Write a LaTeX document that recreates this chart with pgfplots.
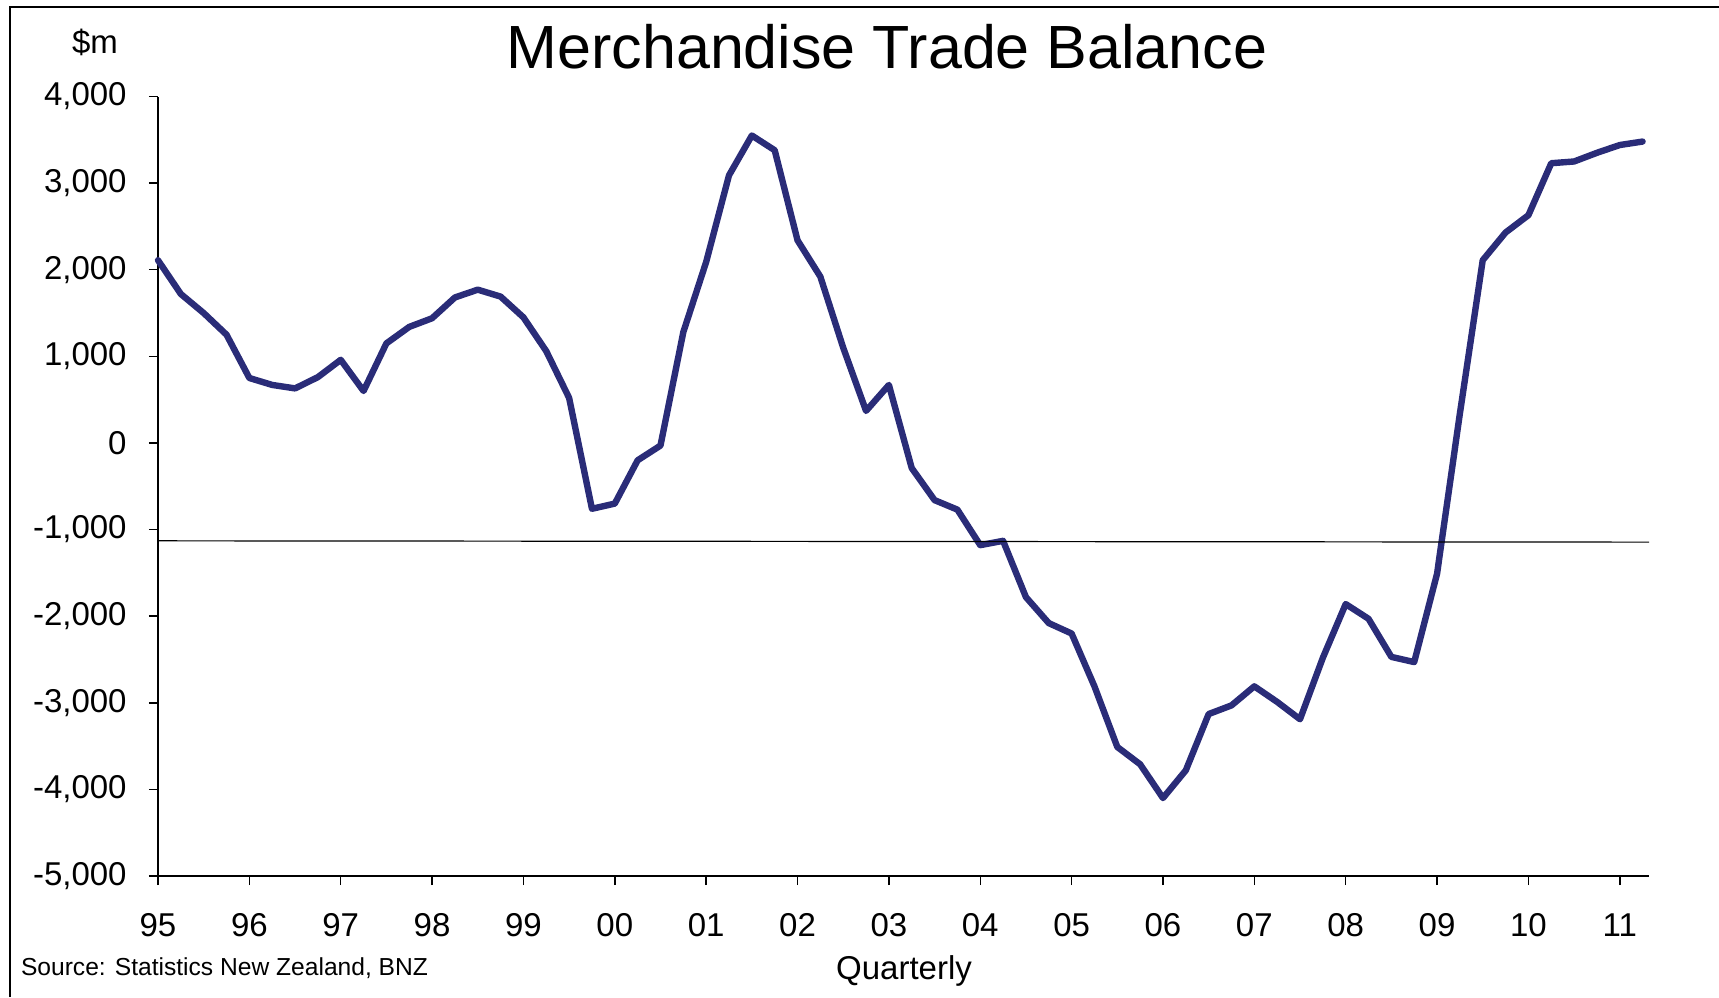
\documentclass[border=0pt]{standalone}
\usepackage{fontspec}
\setmainfont{Liberation Sans}
\usepackage{pgfplots}
\pgfplotsset{compat=1.18}
\definecolor{navy}{RGB}{42,44,120}
\begin{document}
\begin{tikzpicture}
\path[use as bounding box] (0,0) rectangle (859.5pt,-498.5pt);
\draw[line width=1pt] (5pt,-498.5pt) -- (5pt,-3.5pt) -- (859.5pt,-3.5pt);
\begin{axis}[
  at={(79pt,-438pt)}, anchor=south west,
  scale only axis, width=745.5pt, height=389.75pt,
  xmin=0, xmax=16.32, ymin=-5000, ymax=4000,
  axis lines=left, axis line style={-, line width=0.75pt},
  tick align=outside, major tick length=4.5pt,
  tick style={black, line width=0.75pt},
  xtick={0,1,...,16},
  xticklabels={95,96,97,98,99,00,01,02,03,04,05,06,07,08,09,10,11},
  ytick={-5000,-4000,...,4000},
  yticklabels={{-5,000},{-4,000},{-3,000},{-2,000},{-1,000},0,{1,000},{2,000},{3,000},{4,000}},
  ticklabel style={font=\fontsize{16.5}{18}\selectfont},
  xticklabel style={anchor=north, inner sep=0pt, yshift=-14pt},
  yticklabel style={anchor=east, inner sep=0pt, xshift=-11pt},
  clip=false,
]
\addplot[navy, line width=3.2pt, line join=round, line cap=round] coordinates {
(0,2110) (0.25,1720) (0.5,1500) (0.75,1250)
(1,750) (1.25,670) (1.5,630) (1.75,760)
(2,960) (2.25,600) (2.5,1150) (2.75,1340)
(3,1440) (3.25,1680) (3.5,1770) (3.75,1690)
(4,1450) (4.25,1060) (4.5,520) (4.75,-760)
(5,-700) (5.25,-200) (5.5,-30) (5.75,1280)
(6,2090) (6.25,3090) (6.5,3550) (6.75,3380)
(7,2340) (7.25,1920) (7.5,1100) (7.75,370)
(8,670) (8.25,-290) (8.5,-660) (8.75,-770)
(9,-1180) (9.25,-1130) (9.5,-1780) (9.75,-2080)
(10,-2200) (10.25,-2810) (10.5,-3510) (10.75,-3710)
(11,-4100) (11.25,-3780) (11.5,-3130) (11.75,-3030)
(12,-2810) (12.25,-2990) (12.5,-3190) (12.75,-2480)
(13,-1860) (13.25,-2030) (13.5,-2470) (13.75,-2530)
(14,-1510) (14.25,340) (14.5,2110) (14.75,2430)
(15,2630) (15.25,3230) (15.5,3250) (15.75,3350)
(16,3440) (16.25,3480)
};
\addplot[black, line width=0.6pt] coordinates {(0,-1130) (16.32,-1145)};
\end{axis}
\node[anchor=base, font=\fontsize{30.5}{34}\selectfont] at (443.5pt,-34pt) {Merchandise Trade Balance};
\node[anchor=base, font=\fontsize{16.5}{18}\selectfont] at (47.5pt,-26.5pt) {\$m};
\node[anchor=base, font=\fontsize{16.5}{18}\selectfont] at (452pt,-489.5pt) {Quarterly};
\node[anchor=base west, inner sep=0pt, font=\fontsize{12.3}{14}\selectfont] at (10.3pt,-487.5pt) {Source: Statistics New Zealand, BNZ};
\end{tikzpicture}
\end{document}
